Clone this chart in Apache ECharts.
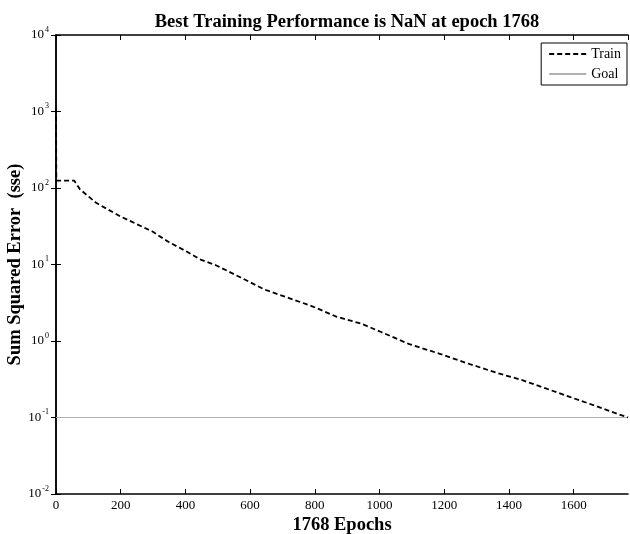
<!DOCTYPE html>
<html>
<head>
<meta charset="utf-8">
<script src="https://cdn.jsdelivr.net/npm/echarts@6/dist/echarts.min.js"></script>
<style>html,body{margin:0;padding:0;background:#fff;}#c{width:630px;height:534px;}</style>
</head>
<body>
<div id="c"></div>
<script>
var epochs = [0, 1, 56, 74, 124, 198, 298, 347, 397, 447, 496, 571, 645, 720, 794, 868, 943, 1005, 1092, 1191, 1266, 1365, 1439, 1514, 1588, 1663, 1737, 1768];
var trainSSE = [1100, 125, 125, 96, 64, 42.7, 27, 19.8, 15.3, 11.6, 9.7, 6.76, 4.7, 3.64, 2.82, 2.07, 1.69, 1.31, 0.91, 0.67, 0.52, 0.38, 0.31, 0.24, 0.186, 0.144, 0.111, 0.10];
var goalEpochs = [0, 1768];
var goalValue = [0.1, 0.1];
var titleText = 'Best Training Performance is NaN at epoch 1768';
var xName = '1768 Epochs';
var yName = 'Sum Squared Error  (sse)';

var font = '"Liberation Serif", "Times New Roman", serif';
var chart = echarts.init(document.getElementById('c'));
var axisLine = {show: true, lineStyle: {color: '#000', width: 1.5}};
chart.setOption({
  animation: false,
  backgroundColor: '#fff',
  title: {text: titleText, left: 342, top: 8, textAlign: 'center',
    textStyle: {fontFamily: font, fontWeight: 'bold', fontSize: 18.5, color: '#000'}},
  grid: {left: 56, right: 2, top: 35, bottom: 40, containLabel: false, outerBoundsMode: 'none'},
  legend: {
    orient: 'vertical', right: 3, top: 43, itemWidth: 37, itemHeight: 14, itemGap: 6,
    borderColor: '#000', borderWidth: 1, padding: [4, 6, 4, 7], backgroundColor: '#fff',
    textStyle: {fontFamily: font, fontSize: 14, color: '#000'},
    itemStyle: {opacity: 0},
    data: ['Train', 'Goal']
  },
  xAxis: [{
    type: 'value', min: 0, max: 1768, interval: 200,
    name: xName, nameLocation: 'middle', nameGap: 22, nameMoveOverlap: false,
    nameTextStyle: {fontFamily: font, fontWeight: 'bold', fontSize: 18.5, color: '#000'},
    axisLine: axisLine,
    axisTick: {inside: true, length: 5, lineStyle: {color: '#000'}},
    axisLabel: {fontFamily: font, fontSize: 13, color: '#000', margin: 5, showMaxLabel: false,
      formatter: function (v) { return v % 200 === 0 ? String(v) : ''; }},
    splitLine: {show: false}
  }, {
    type: 'value', min: 0, max: 1768, interval: 200, position: 'top',
    axisLine: axisLine,
    axisTick: {inside: true, length: 5, lineStyle: {color: '#000'}},
    axisLabel: {show: false}, splitLine: {show: false}
  }],
  yAxis: [{
    type: 'log', logBase: 10, min: 0.01, max: 10000,
    name: yName, nameLocation: 'middle', nameGap: 31, nameRotate: 90, nameMoveOverlap: false,
    nameTextStyle: {fontFamily: font, fontWeight: 'bold', fontSize: 18.5, color: '#000'},
    axisLine: axisLine,
    axisTick: {inside: true, length: 5, lineStyle: {color: '#000'}},
    minorTick: {show: false},
    axisLabel: {fontFamily: font, fontSize: 13, color: '#000', margin: 7,
      formatter: function (v) { return '10{s|' + Math.round(Math.log10(v)) + '}'; },
      rich: {s: {fontFamily: font, fontSize: 8, color: '#000', verticalAlign: 'bottom', padding: [0, 0, 11, 1]}}},
    splitLine: {show: false}
  }, {
    type: 'log', logBase: 10, min: 0.01, max: 10000, position: 'right',
    axisLine: axisLine,
    axisTick: {inside: true, length: 5, lineStyle: {color: '#000'}},
    axisLabel: {show: false}, splitLine: {show: false}
  }],
  series: [{
    name: 'Train', type: 'line', symbol: 'none',
    data: epochs.map(function (e, i) { return [e, trainSSE[i]]; }),
    lineStyle: {color: '#000', width: 1.8, type: [5, 3]},
    itemStyle: {color: '#000'}, z: 3
  }, {
    name: 'Goal', type: 'line', symbol: 'none',
    data: goalEpochs.map(function (e, i) { return [e, goalValue[i]]; }),
    lineStyle: {color: '#b0b0b0', width: 1.2},
    itemStyle: {color: '#b0b0b0'}, z: 2
  }]
});
</script>
</body>
</html>
